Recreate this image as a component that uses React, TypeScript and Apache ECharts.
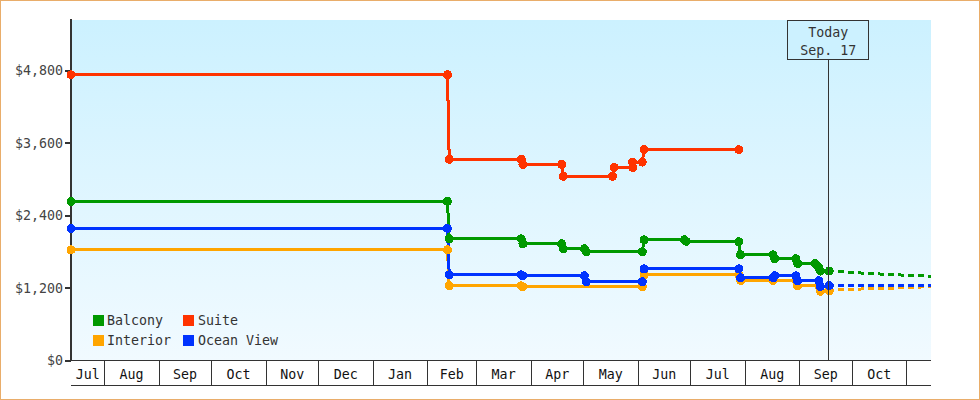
import React, { useEffect, useRef } from "react";
import * as echarts from "echarts";

const FONT = '"DejaVu Sans Mono", monospace';
const ts = (s: string) => Date.parse(s.length > 10 ? s + ":00:00Z" : s + "T00:00:00Z");

const axisStart = "2013-07-13";
const axisEnd = "2014-11-15";
const todayStamp = ts("2014-09-17T12");
const todayLabel = "Today\nSep. 17";

const monthStarts = [
  "2013-07-13", "2013-08-01", "2013-09-01", "2013-10-01", "2013-11-01", "2013-12-01", "2014-01-01", "2014-02-01",
  "2014-03-01", "2014-04-01", "2014-05-01", "2014-06-01", "2014-07-01", "2014-08-01", "2014-09-01", "2014-10-01", "2014-11-01",
];
const monthLabels = ["Jul", "Aug", "Sep", "Oct", "Nov", "Dec", "Jan", "Feb", "Mar", "Apr", "May", "Jun", "Jul", "Aug", "Sep", "Oct"];
const priceTicks = [0, 1200, 2400, 3600, 4800];

const interior: [string, number][] = [
  ["2013-07-13", 1832], ["2014-02-12T12", 1832], ["2014-02-13T12", 1236], ["2014-03-26T12", 1236], ["2014-03-27T12", 1220],
  ["2014-06-03T12", 1220], ["2014-06-04T12", 1418], ["2014-07-28T12", 1418], ["2014-07-29T12", 1324], ["2014-08-17", 1324],
  ["2014-08-30", 1324], ["2014-08-31", 1236], ["2014-09-12", 1236], ["2014-09-13", 1147], ["2014-09-18", 1155],
];
const oceanView: [string, number][] = [
  ["2013-07-13", 2185], ["2014-02-12T12", 2185], ["2014-02-13T12", 1418], ["2014-03-26T12", 1418], ["2014-03-27T12", 1402],
  ["2014-05-01T12", 1402], ["2014-05-02T12", 1302], ["2014-06-03T12", 1302], ["2014-06-04T12", 1517], ["2014-07-28T12", 1517],
  ["2014-07-29T12", 1369], ["2014-08-17", 1369], ["2014-08-18", 1402], ["2014-08-30", 1402], ["2014-08-31", 1319],
  ["2014-09-12", 1319], ["2014-09-13", 1225], ["2014-09-18", 1240],
];
const balcony: [string, number][] = [
  ["2013-07-13", 2632], ["2014-02-12T12", 2632], ["2014-02-13T12", 2014], ["2014-03-26T12", 2014], ["2014-03-27T12", 1931],
  ["2014-04-18T12", 1931], ["2014-04-19T12", 1848], ["2014-05-01T12", 1848], ["2014-05-02T12", 1799], ["2014-06-03T12", 1799],
  ["2014-06-04T12", 1998], ["2014-06-27T12", 1998], ["2014-06-28T12", 1972], ["2014-07-28T12", 1965], ["2014-07-29T12", 1750],
  ["2014-08-17", 1750], ["2014-08-18", 1684], ["2014-08-30", 1684], ["2014-08-31", 1605], ["2014-09-10", 1605],
  ["2014-09-11", 1572], ["2014-09-12", 1539], ["2014-09-13", 1481], ["2014-09-18", 1481],
];
const suite: [string, number][] = [
  ["2013-07-13", 4730], ["2014-02-12T12", 4730], ["2014-02-13T12", 3330], ["2014-03-26T12", 3330], ["2014-03-27T12", 3245],
  ["2014-04-18T12", 3245], ["2014-04-19T12", 3050], ["2014-05-17T12", 3050], ["2014-05-18T12", 3195], ["2014-05-29", 3195],
  ["2014-05-29", 3285], ["2014-06-03T12", 3285], ["2014-06-04T12", 3490], ["2014-07-28T12", 3490],
];

const balconyForecast: [string, number][] = [["2014-09-23", 1473], ["2014-10-08", 1445], ["2014-10-25", 1420], ["2014-11-15", 1395]];
const oceanForecast: [string, number][] = [["2014-09-23", 1236], ["2014-11-15", 1236]];
const interiorForecast: [string, number][] = [["2014-09-23", 1170], ["2014-10-10", 1187], ["2014-11-01", 1205], ["2014-11-15", 1225]];

const COLORS = { Balcony: "#009900", Suite: "#ff3300", Interior: "#ffa500", "Ocean View": "#0033ff" };
const DARK = "#333333";

const toPoints = (rows: [string, number][]) => rows.map(([d, v]) => [ts(d), v]);

const monthTicks = [...monthStarts.map(ts), ts(axisEnd)];
const monthMids = monthLabels.map((_, i) => (monthTicks[i] + monthTicks[i + 1]) / 2);
const innerTicks = monthStarts.slice(1).map(ts);

function priced(name: keyof typeof COLORS, rows: [string, number][], extra: object = {}) {
  return {
    type: "line", name, data: toPoints(rows), clip: false, symbol: "circle", symbolSize: 9,
    lineStyle: { color: COLORS[name], width: 3 }, itemStyle: { color: COLORS[name] }, ...extra,
  };
}
function forecast(name: keyof typeof COLORS, rows: [string, number][]) {
  return {
    type: "line", name, data: toPoints(rows), symbol: "none",
    lineStyle: { color: COLORS[name], width: 3, type: [6, 4] }, itemStyle: { color: COLORS[name] },
  };
}
const legendItem = (name: keyof typeof COLORS) => ({
  name, itemStyle: { color: COLORS[name], borderColor: COLORS[name], borderWidth: 4 },
});

export default function App() {
  const ref = useRef<HTMLDivElement>(null);
  useEffect(() => {
    document.body.style.margin = "0";
    const chart = echarts.init(ref.current!, undefined, { renderer: "svg" });
    const legendBase = {
      orient: "vertical", top: 314, padding: 0, itemWidth: 7, itemHeight: 7, itemGap: 7, icon: "rect",
      selectedMode: false,
    };
    const legendText = { fontFamily: FONT, fontSize: 13.3, color: "#333" };
    chart.setOption({
      animation: false,
      grid: {
        left: 71, right: 49, top: 20, bottom: 39.5, show: true, borderWidth: 0,
        backgroundColor: new echarts.graphic.LinearGradient(0, 0, 0, 1, [
          { offset: 0, color: "#ccf1ff" }, { offset: 1, color: "#f1faff" },
        ]),
      },
      legend: [
        { ...legendBase, left: 93, textStyle: legendText, data: [legendItem("Balcony"), legendItem("Interior")] },
        { ...legendBase, left: 183, textStyle: { ...legendText, padding: [0, 0, 0, 1] }, data: [legendItem("Suite"), legendItem("Ocean View")] },
      ],
      xAxis: [
        {
          type: "value", min: ts(axisStart), max: ts(axisEnd), splitLine: { show: false },
          axisLine: { show: true, onZero: false, lineStyle: { color: DARK, width: 1 } },
          axisTick: { show: true, customValues: innerTicks, length: 25, lineStyle: { color: DARK, width: 1 } },
          axisLabel: {
            customValues: monthMids, margin: 7, fontFamily: FONT, fontSize: 13.3, color: "#111",
            formatter: (v: number) => monthLabels[monthMids.indexOf(v)] ?? "",
          },
        },
        {
          type: "value", min: ts(axisStart), max: ts(axisEnd), position: "bottom", offset: 25, splitLine: { show: false },
          axisLine: { show: true, onZero: false, lineStyle: { color: DARK, width: 1 } },
          axisTick: { show: false }, axisLabel: { show: false },
        },
      ],
      yAxis: {
        type: "value", min: 0, max: 5636, splitLine: { show: false },
        axisLine: { show: true, lineStyle: { color: DARK, width: 2 } },
        axisTick: { show: true, customValues: priceTicks, length: 6, lineStyle: { color: DARK, width: 2 } },
        axisLabel: {
          customValues: priceTicks, margin: 8, fontFamily: FONT, fontSize: 13.3, color: "#444",
          formatter: (v: number) => "$" + v.toLocaleString("en-US"),
        },
      },
      series: [
        priced("Interior", interior),
        forecast("Interior", interiorForecast),
        priced("Ocean View", oceanView),
        forecast("Ocean View", oceanForecast),
        priced("Balcony", balcony),
        forecast("Balcony", balconyForecast),
        priced("Suite", suite, {
          markLine: {
            silent: true, symbol: "none", animation: false,
            lineStyle: { color: DARK, width: 1, type: "solid" },
            label: {
              show: true, position: "end", distance: 0, formatter: todayLabel,
              fontFamily: FONT, fontSize: 13.3, lineHeight: 18, color: "#333",
              backgroundColor: "#ccf1ff", borderColor: DARK, borderWidth: 1, padding: [2, 12, 0, 12],
            },
            data: [[{ coord: [todayStamp, 0] }, { coord: [todayStamp, 4987] }]],
          },
        }),
      ],
    });
    return () => chart.dispose();
  }, []);
  return (
    <div style={{ position: "relative", width: 980, height: 400, background: "#fff" }}>
      <style>{"#price-chart svg path{shape-rendering:crispEdges}"}</style>
      <div id="price-chart" ref={ref} style={{ width: 980, height: 400 }} />
      <div style={{ position: "absolute", inset: 0, boxSizing: "border-box", border: "1px solid #e9ad6a", pointerEvents: "none" }} />
    </div>
  );
}
